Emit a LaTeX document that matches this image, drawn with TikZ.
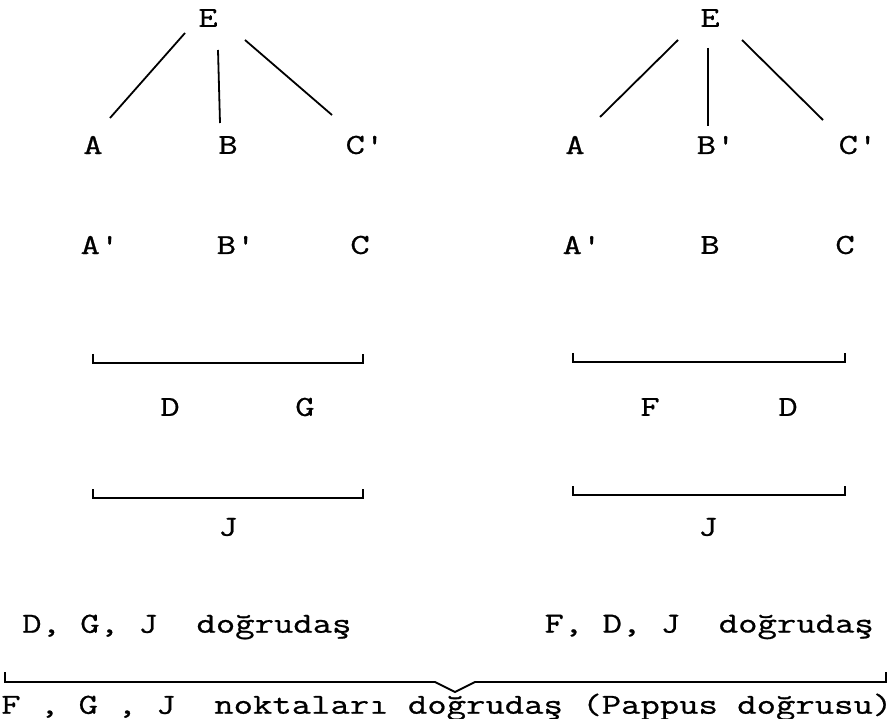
\documentclass[tikz,border=0pt]{standalone}
\usepackage{fontspec}
\newfontfamily\twfont{Latin Modern Mono}[FakeStretch=1.297,FakeBold=0.8]
\begin{document}
\begin{tikzpicture}[x=1pt,y=-1pt,
  lbl/.style={inner sep=0pt,font=\twfont\fontsize{29}{29}\selectfont},
  ln/.style={line width=1.8pt,line cap=butt}]
\useasboundingbox (0,0) rectangle (892,719);
% left figure
\node[lbl] (EL) at (208,18) {E};
\node[lbl] (AL) at (93,145) {A};
\node[lbl] (BL) at (228,145) {B};
\node[lbl] (CpL) at (365,145) {C'};
\node[lbl] (ApL) at (100,245) {A'};
\node[lbl] (BpL) at (236,245) {B'};
\node[lbl] (CL) at (360,245) {C};
\draw[ln] ([shift={(-23,15)}]EL.center) -- ([shift={(17,-27)}]AL.center);
\draw[ln] ([shift={(10,32)}]EL.center) -- ([shift={(-8,-22)}]BL.center);
\draw[ln] ([shift={(37,22)}]EL.center) -- ([shift={(-33,-30)}]CpL.center);
\coordinate (b1a) at (93,363); \coordinate (b1b) at (363,363);
\draw[ln] ([yshift=9]b1a) -- (b1a) -- (b1b) -- ([yshift=9]b1b);
\node[lbl] (DL) at (170,407) {D};
\node[lbl] (GL) at (305,407) {G};
\coordinate (b2a) at (93,498); \coordinate (b2b) at (363,498);
\draw[ln] ([yshift=9]b2a) -- (b2a) -- (b2b) -- ([yshift=9]b2b);
\node[lbl] (JL) at (228,527) {J};
% right figure
\node[lbl] (ER) at (710,18) {E};
\node[lbl] (AR) at (575,145) {A};
\node[lbl] (BpR) at (716,145) {B'};
\node[lbl] (CpR) at (858,145) {C'};
\node[lbl] (ApR) at (582,245) {A'};
\node[lbl] (BR) at (710,245) {B};
\node[lbl] (CR) at (845,245) {C};
\draw[ln] ([shift={(-32,22)}]ER.center) -- ([shift={(25,-28)}]AR.center);
\draw[ln] ([shift={(-2,30)}]ER.center) -- ([shift={(-8,-19)}]BpR.center);
\draw[ln] ([shift={(32,22)}]ER.center) -- ([shift={(-35,-25)}]CpR.center);
\coordinate (b3a) at (573,362); \coordinate (b3b) at (845,362);
\draw[ln] ([yshift=9]b3a) -- (b3a) -- (b3b) -- ([yshift=9]b3b);
\node[lbl] (FR) at (650,407) {F};
\node[lbl] (DR) at (788,407) {D};
\coordinate (b4a) at (573,495); \coordinate (b4b) at (845,495);
\draw[ln] ([yshift=9]b4a) -- (b4a) -- (b4b) -- ([yshift=9]b4b);
\node[lbl] (JR) at (708,527) {J};
% bottom
\node[lbl,anchor=west] (t1) at (22,627) {D, G, J\ \ doğrudaş};
\node[lbl,anchor=east] (t2) at (874,627) {F, D, J\ \ doğrudaş};
\coordinate (ba) at (5,682); \coordinate (bb) at (886,682);
\coordinate (va) at (435,682); \coordinate (vm) at (455,692); \coordinate (vb) at (475,682);
\draw[ln] ([yshift=10]ba) -- (ba) -- (va) -- (vm) -- (vb) -- (bb) -- ([yshift=10]bb);
\node[lbl,anchor=west] (t3) at (1,707) {F , G , J\ \ noktaları doğrudaş (Pappus doğrusu)};
\end{tikzpicture}
\end{document}
